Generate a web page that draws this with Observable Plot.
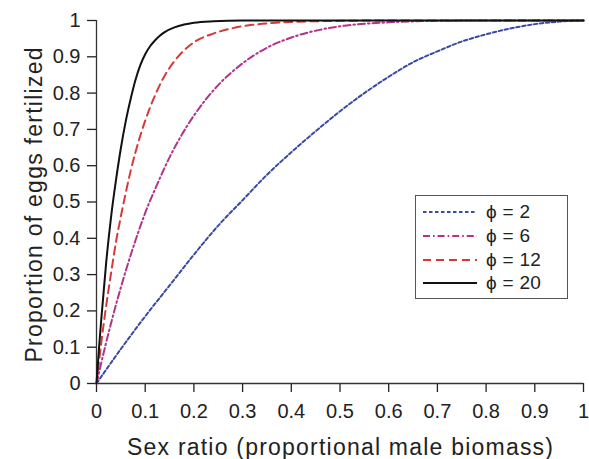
<!DOCTYPE html>
<html>
<head>
<meta charset="utf-8">
<script src="https://cdn.jsdelivr.net/npm/d3@7"></script>
<script src="https://cdn.jsdelivr.net/npm/@observablehq/plot@0.6"></script>
<style>
  body { margin: 0; background: #fff; }
  #wrap { position: relative; width: 589px; height: 459px; font-family: "Liberation Sans", Arial, Helvetica, sans-serif; }
  #legend { position: absolute; left: 415px; top: 195px; width: 151px; height: 102px; border: 1.3px solid #555; background: #fff; box-sizing: content-box; }
  .lrow { position: absolute; left: 0; height: 20px; width: 151px; }
  .lrow svg { position: absolute; left: 7px; top: 0; }
  .lrow span { position: absolute; left: 70px; top: -1px; font-size: 19px; line-height: 22px; color: #222; white-space: nowrap; letter-spacing: 0.3px; }
</style>
</head>
<body>
<div id="wrap"></div>
<script>
// ---- data ----
const legendLabels = ["\u03D5 = 2", "\u03D5 = 6", "\u03D5 = 12", "\u03D5 = 20"];

const xTicks = [0, 0.1, 0.2, 0.3, 0.4, 0.5, 0.6, 0.7, 0.8, 0.9, 1];
const yTicks = [0, 0.1, 0.2, 0.3, 0.4, 0.5, 0.6, 0.7, 0.8, 0.9, 1];
const xTickLabels = ["0", "0.1", "0.2", "0.3", "0.4", "0.5", "0.6", "0.7", "0.8", "0.9", "1"];
const yTickLabels = ["0", "0.1", "0.2", "0.3", "0.4", "0.5", "0.6", "0.7", "0.8", "0.9", "1"];

const xAxisTitle = "Sex ratio (proportional male biomass)";
const yAxisTitle = "Proportion of eggs fertilized";

// phi = 2
const phi2X = [0, 0.05, 0.1, 0.15, 0.2, 0.25, 0.3, 0.35, 0.4, 0.45, 0.5, 0.55, 0.6, 0.65, 0.7, 0.75, 0.8, 0.85, 0.9, 0.95, 1];
const phi2Y = [0, 0.095, 0.185, 0.27, 0.355, 0.435, 0.505, 0.575, 0.637, 0.695, 0.75, 0.8, 0.845, 0.885, 0.915, 0.942, 0.962, 0.978, 0.99, 0.997, 1];

// phi = 6
const phi6X = [0, 0.02, 0.04, 0.06, 0.08, 0.1, 0.125, 0.15, 0.175, 0.2, 0.25, 0.3, 0.35, 0.4, 0.45, 0.5, 0.6, 0.7, 0.8, 0.9, 1];
const phi6Y = [0, 0.114, 0.217, 0.31, 0.394, 0.47, 0.55, 0.623, 0.685, 0.738, 0.822, 0.882, 0.925, 0.953, 0.972, 0.984, 0.995, 0.999, 1, 1, 1];

// phi = 12
const phi12X = [0, 0.01, 0.02, 0.03, 0.04, 0.05, 0.06, 0.07, 0.08, 0.09, 0.1, 0.12, 0.14, 0.16, 0.18, 0.2, 0.24, 0.28, 0.32, 0.36, 0.4, 0.5, 0.6, 0.8, 1];
const phi12Y = [0, 0.115, 0.215, 0.305, 0.39, 0.46, 0.525, 0.585, 0.637, 0.683, 0.724, 0.793, 0.848, 0.888, 0.918, 0.94, 0.964, 0.979, 0.988, 0.993, 0.996, 0.999, 1, 1, 1];

// phi = 20
const phi20X = [0, 0.005, 0.01, 0.02, 0.03, 0.04, 0.05, 0.06, 0.07, 0.08, 0.09, 0.1, 0.11, 0.12, 0.13, 0.14, 0.16, 0.18, 0.2, 0.24, 0.3, 0.4, 0.6, 0.8, 1];
const phi20Y = [0, 0.095, 0.18, 0.335, 0.46, 0.56, 0.648, 0.722, 0.783, 0.836, 0.877, 0.907, 0.929, 0.945, 0.958, 0.968, 0.981, 0.989, 0.994, 0.998, 1, 1, 1, 1, 1];

// ---- styles ----
const styles = [
  { stroke: "#3a4aa0", dash: "3.5,2.5" },
  { stroke: "#b2328c", dash: "7,3,1.6,3" },
  { stroke: "#d8383a", dash: "8,5" },
  { stroke: "#111111", dash: null }
];

const seriesXs = [phi2X, phi6X, phi12X, phi20X];
const seriesYs = [phi2Y, phi6Y, phi12Y, phi20Y];

const rows = [];
legendLabels.forEach((name, k) => {
  seriesXs[k].forEach((x, i) => rows.push({ phi: name, x, y: seriesYs[k][i] }));
});

const lineMarks = legendLabels.map((name, k) =>
  Plot.line(rows.filter(r => r.phi === name), {
    x: "x", y: "y",
    stroke: styles[k].stroke,
    strokeWidth: 2,
    strokeDasharray: styles[k].dash,
    curve: "monotone-x"
  })
);

const chart = Plot.plot({
  width: 589,
  height: 459,
  marginLeft: 96,
  marginRight: 6,
  marginTop: 20,
  marginBottom: 76,
  style: { fontFamily: "'Liberation Sans', Arial, Helvetica, sans-serif", fontSize: "20px", color: "#222", background: "transparent" },
  x: { domain: [0, 1] },
  y: { domain: [0, 1] },
  marks: [
    Plot.axisX({ ticks: xTicks, tickSize: 9, tickPadding: 11, strokeWidth: 1.3, label: null, fontSize: 20,
                 tickFormat: d => xTickLabels[xTicks.indexOf(d)] }),
    Plot.axisY({ ticks: yTicks, tickSize: 9, tickPadding: 7, strokeWidth: 1.3, label: null, fontSize: 20,
                 tickFormat: d => yTickLabels[yTicks.indexOf(d)] }),
    Plot.ruleX([0], { stroke: "#333", strokeWidth: 1.3 }),
    Plot.ruleY([0], { stroke: "#333", strokeWidth: 1.3 }),
    ...lineMarks,
    Plot.text([xAxisTitle], { text: d => d, frameAnchor: "bottom", dy: 64, fontSize: 23, lineAnchor: "middle", textAnchor: "middle", fill: "#222" }),
    Plot.text([yAxisTitle], { text: d => d, frameAnchor: "left", dx: -62, dy: 3, rotate: -90, fontSize: 23, lineAnchor: "middle", textAnchor: "middle", fill: "#222" })
  ]
});

// stretch axis titles to match the reference spacing
chart.querySelectorAll("text").forEach(t => {
  if (t.textContent === xAxisTitle) { t.setAttribute("textLength", 426); t.setAttribute("lengthAdjust", "spacing"); }
  if (t.textContent === yAxisTitle) { t.setAttribute("textLength", 315); t.setAttribute("lengthAdjust", "spacing"); }
});

const wrap = document.getElementById("wrap");
wrap.appendChild(chart);

// legend
const legend = document.createElement("div");
legend.id = "legend";
const rowCenters = [16, 39.5, 63.5, 86.5];
legendLabels.forEach((name, k) => {
  const row = document.createElement("div");
  row.className = "lrow";
  row.style.top = (rowCenters[k] - 10) + "px";
  const svg = d3.create("svg").attr("width", 56).attr("height", 20);
  svg.append("line").attr("x1", 0).attr("x2", 54).attr("y1", 10).attr("y2", 10)
    .attr("stroke", styles[k].stroke).attr("stroke-width", 2)
    .attr("stroke-dasharray", styles[k].dash);
  row.appendChild(svg.node());
  const span = document.createElement("span");
  span.textContent = name;
  row.appendChild(span);
  legend.appendChild(row);
});
wrap.appendChild(legend);
</script>
</body>
</html>
